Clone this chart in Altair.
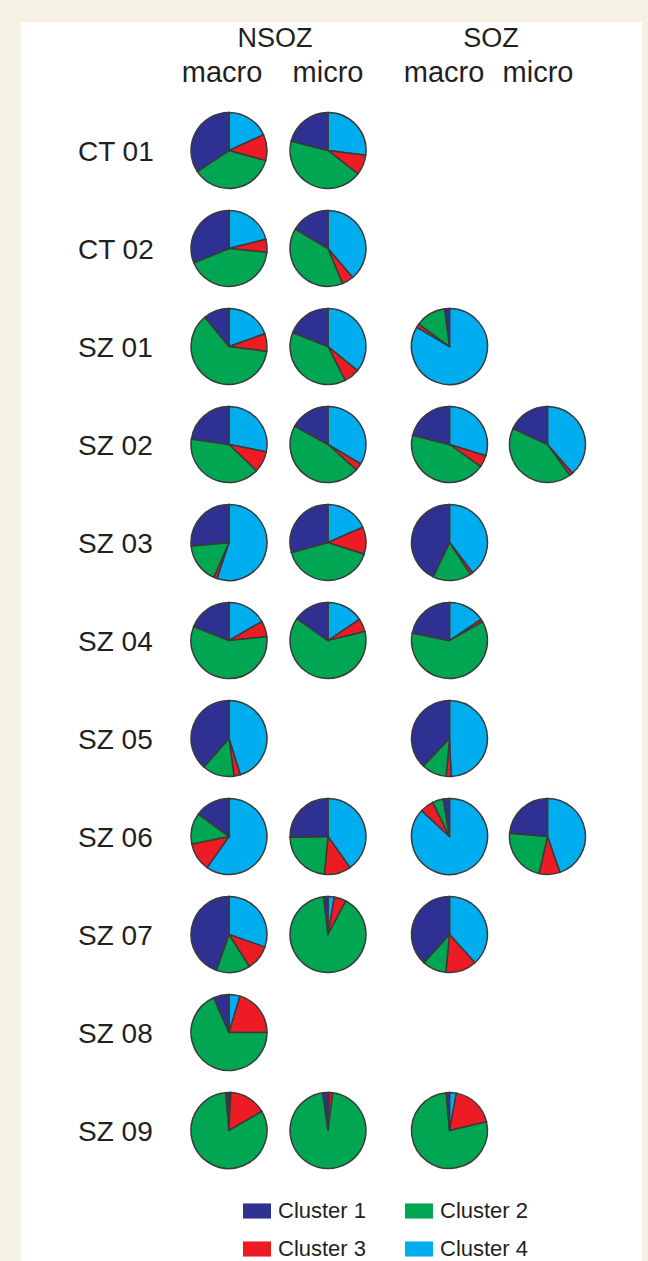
import altair as alt
import pandas as pd

# ---------------- data ----------------
subjects = ["CT 01", "CT 02", "SZ 01", "SZ 02", "SZ 03", "SZ 04",
            "SZ 05", "SZ 06", "SZ 07", "SZ 08", "SZ 09"]
zones = ["NSOZ", "NSOZ", "SOZ", "SOZ"]
recordings = ["macro", "micro", "macro", "micro"]
clusters = ["Cluster 1", "Cluster 2", "Cluster 3", "Cluster 4"]
cluster_colors = ["#2e3192", "#00a651", "#ed1c24", "#00aeef"]

# one entry per pie: subject and column (0 NSOZ macro, 1 NSOZ micro, 2 SOZ macro, 3 SOZ micro)
pie_subject = ["CT 01", "CT 01", "CT 02", "CT 02",
               "SZ 01", "SZ 01", "SZ 01",
               "SZ 02", "SZ 02", "SZ 02", "SZ 02",
               "SZ 03", "SZ 03", "SZ 03",
               "SZ 04", "SZ 04", "SZ 04",
               "SZ 05", "SZ 05",
               "SZ 06", "SZ 06", "SZ 06", "SZ 06",
               "SZ 07", "SZ 07", "SZ 07",
               "SZ 08",
               "SZ 09", "SZ 09", "SZ 09"]
pie_column = [0, 1, 0, 1,
              0, 1, 2,
              0, 1, 2, 3,
              0, 1, 2,
              0, 1, 2,
              0, 2,
              0, 1, 2, 3,
              0, 1, 2,
              0,
              0, 1, 2]
cluster1 = [0.34, 0.21, 0.31, 0.165,
            0.11, 0.19, 0.02,
            0.226, 0.17, 0.21, 0.18,
            0.264, 0.293, 0.43,
            0.19, 0.153, 0.219,
            0.385, 0.379,
            0.15, 0.253, 0.026, 0.236,
            0.446, 0.018, 0.382,
            0.066,
            0.014, 0.022, 0.014]
cluster2 = [0.36, 0.435, 0.42, 0.40,
            0.62, 0.385, 0.13,
            0.40, 0.465, 0.44, 0.42,
            0.17, 0.407, 0.163,
            0.576, 0.636, 0.614,
            0.136, 0.107,
            0.131, 0.232, 0.047, 0.228,
            0.144, 0.905, 0.102,
            0.684,
            0.82, 0.955, 0.772]
cluster3 = [0.11, 0.085, 0.055, 0.05,
            0.075, 0.066, 0.015,
            0.09, 0.03, 0.05, 0.014,
            0.014, 0.116, 0.012,
            0.067, 0.056, 0.012,
            0.027, 0.021,
            0.121, 0.113, 0.058, 0.089,
            0.106, 0.051, 0.132,
            0.203,
            0.158, 0.015, 0.184]
cluster4 = [0.18, 0.27, 0.21, 0.39,
            0.196, 0.36, 0.835,
            0.28, 0.336, 0.297, 0.386,
            0.55, 0.184, 0.396,
            0.167, 0.156, 0.156,
            0.452, 0.493,
            0.597, 0.402, 0.869, 0.447,
            0.304, 0.027, 0.383,
            0.047,
            0.008, 0.005, 0.029]

# ---------------- tables ----------------
# clockwise order from 12 o'clock: Cluster 4, Cluster 3, Cluster 2, Cluster 1
slice_order = {"Cluster 4": 0, "Cluster 3": 1, "Cluster 2": 2, "Cluster 1": 3}
rows = []
for i, (s, c) in enumerate(zip(pie_subject, pie_column)):
    for name, vals in zip(clusters, [cluster1, cluster2, cluster3, cluster4]):
        rows.append({"pie": i, "subject": s, "row": subjects.index(s), "col": c,
                     "cluster": name, "order": slice_order[name], "value": vals[i]})
pies_df = pd.DataFrame(rows)

labels_df = pd.DataFrame({"subject": subjects, "row": list(range(len(subjects)))})
header_df = pd.DataFrame({"hcol": [0, 1, 2, 3], "rec": recordings, "zone": zones})

FONT = "Liberation Sans"
TEXT = "#231f20"

x_pie = alt.Scale(domain=[0, 1, 2, 3], range=[229, 328, 449.5, 547.5])
y_row = alt.Scale(domain=[0, 10], range=[150.5, 1130.5])
x_head = alt.Scale(domain=[0, 1, 2, 3], range=[222, 328, 444, 538])

panel = alt.Chart(pd.DataFrame({"a": [0]})).mark_rect(color="white").encode(
    x=alt.value(21), x2=alt.value(642), y=alt.value(22), y2=alt.value(1261)
)

pies = (
    alt.Chart(pies_df)
    .transform_joinaggregate(total="sum(value)", groupby=["pie"])
    .transform_window(cum="sum(value)", groupby=["pie"],
                      sort=[alt.SortField("order")], frame=[None, 0])
    .transform_calculate(t0="(datum.cum - datum.value) / datum.total",
                         t1="datum.cum / datum.total")
    .mark_arc(radius=38, stroke="#3a3a3a", strokeWidth=1.5)
    .encode(
        x=alt.X("col:Q", scale=x_pie, axis=None),
        y=alt.Y("row:Q", scale=y_row, axis=None),
        theta=alt.Theta("t0:Q", scale=alt.Scale(domain=[0, 1], range=[0, 6.283185307])),
        theta2="t1:Q",
        color=alt.Color(
            "cluster:N",
            scale=alt.Scale(domain=clusters, range=cluster_colors),
            legend=alt.Legend(
                orient="none", legendX=243, legendY=1197, columns=2,
                direction="horizontal", title=None,
                symbolType="M-1,-0.54H1V0.54H-1Z", symbolSize=784,
                symbolStrokeWidth=0, labelFontSize=22, labelFont=FONT,
                labelColor=TEXT, labelOffset=7, columnPadding=38, rowPadding=13,
                padding=0,
            ),
        ),
        order=alt.Order("order:Q"),
    )
)

row_labels = alt.Chart(labels_df).mark_text(
    align="left", baseline="middle", fontSize=28, font=FONT, color=TEXT, dy=2
).encode(
    x=alt.value(78),
    y=alt.Y("row:Q", scale=y_row, axis=None),
    text="subject:N",
)

rec_headers = alt.Chart(header_df).mark_text(
    align="center", baseline="alphabetic", fontSize=29, font=FONT, color=TEXT
).encode(
    x=alt.X("hcol:Q", scale=x_head, axis=None),
    y=alt.value(82),
    text="rec:N",
)

zone_headers = (
    alt.Chart(header_df)
    .transform_aggregate(hcol="mean(hcol)", groupby=["zone"])
    .mark_text(align="center", baseline="alphabetic", fontSize=27, font=FONT, color=TEXT)
    .encode(
        x=alt.X("hcol:Q", scale=x_head, axis=None),
        y=alt.value(47),
        text="zone:N",
    )
)

chart = (
    alt.layer(panel, pies, row_labels, rec_headers, zone_headers)
    .resolve_scale(x="independent")
    .properties(width=648, height=1261, background="#f5f1e3", padding=0,
                autosize=alt.AutoSizeParams(type="none"))
    .configure_view(strokeWidth=0)
)

chart.save("out.html", embed_options={"renderer": "svg", "actions": False})
